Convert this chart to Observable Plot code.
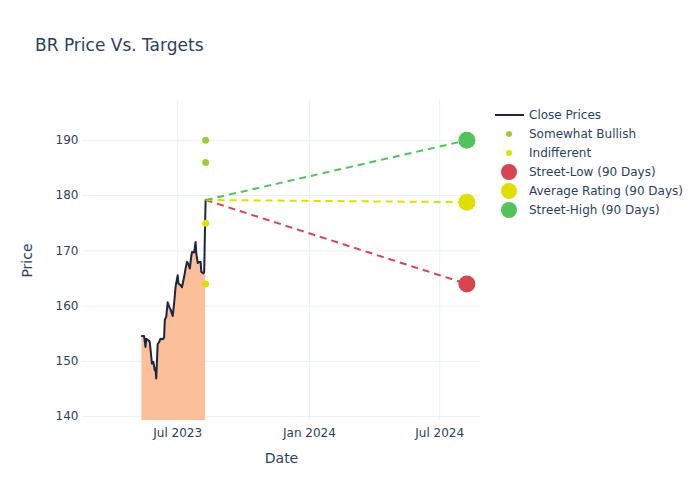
<!DOCTYPE html>
<html>
<head>
<meta charset="utf-8">
<script src="https://cdn.jsdelivr.net/npm/d3@7"></script>
<script src="https://cdn.jsdelivr.net/npm/@observablehq/plot@0.6"></script>
<style>
  body { margin: 0; background: #fff; font-family: "DejaVu Sans", sans-serif; }
  #wrap { position: relative; width: 700px; height: 500px; }
  #title { position: absolute; left: 35px; top: 35px; font-size: 17px; color: #2a3f5f; }
  #legend { position: absolute; left: 494px; top: 106px; font-size: 12px; color: #2a3f5f; }
  .item { height: 18.9px; display: flex; align-items: center; }
  .item svg { width: 30px; height: 18px; margin-right: 5px; }
</style>
</head>
<body>
<div id="wrap">
  <div id="chart"></div>
  <div id="title">BR Price Vs. Targets</div>
  <div id="legend"></div>
</div>
<script>
const priceDates = ["2023-05-12","2023-05-15","2023-05-17","2023-05-18","2023-05-22","2023-05-23","2023-05-26","2023-05-28","2023-05-30","2023-05-31","2023-06-01","2023-06-03","2023-06-05","2023-06-07","2023-06-10","2023-06-12","2023-06-13","2023-06-15","2023-06-17","2023-06-19","2023-06-21","2023-06-24","2023-06-26","2023-06-28","2023-07-01","2023-07-02","2023-07-05","2023-07-07","2023-07-10","2023-07-12","2023-07-14","2023-07-16","2023-07-18","2023-07-20","2023-07-21","2023-07-24","2023-07-26","2023-07-27","2023-07-29","2023-07-31","2023-08-02","2023-08-03","2023-08-06","2023-08-07","2023-08-08","2023-08-09"];
const closePrices = [154.6,154.6,152.6,154.1,153.7,153.5,149.6,149.9,148.4,148.7,146.9,153.1,153.5,154.1,154.0,154.3,157.5,158.1,160.7,159.9,159.4,158.2,160.5,163.5,165.6,164.1,163.8,163.4,165.3,166.8,168.0,167.6,166.8,169.1,169.8,169.7,171.6,169.5,167.8,168.0,168.0,166.2,165.9,166.2,173.2,179.2];

const ratingDate = "2023-08-09";
const bullishTargets = [190, 186];
const indifferentTargets = [175, 164];

const targetDate = "2024-08-08";
const targetNames = ["Street-Low (90 Days)", "Average Rating (90 Days)", "Street-High (90 Days)"];
const targetValues = [164, 178.8, 190];
const targetColors = ["#d64550", "#e0dd00", "#50c45a"];

const xTicks = ["2023-07-01", "2024-01-01", "2024-07-01"];
const xTickLabels = ["Jul 2023", "Jan 2024", "Jul 2024"];
const yTicks = [140, 150, 160, 170, 180, 190];

const parse = d3.utcParse("%Y-%m-%d");
const prices = priceDates.map((d, i) => ({date: parse(d), price: closePrices[i]}));
const last = prices[prices.length - 1];
const bull = bullishTargets.map(v => ({date: parse(ratingDate), v}));
const indiff = indifferentTargets.map(v => ({date: parse(ratingDate), v}));
const targets = targetValues.map((v, i) => ({name: targetNames[i], date: parse(targetDate), v, color: targetColors[i]}));
const segs = targets.map(t => ({x1: last.date, y1: last.price, x2: t.date, y2: t.v, color: t.color}));
const yMin = 139.3, yMax = 197.2;
const tickDates = xTicks.map(parse);
const tickFmt = new Map(tickDates.map((d, i) => [+d, xTickLabels[i]]));

const chart = Plot.plot({
  width: 700, height: 500,
  marginLeft: 82, marginRight: 220, marginTop: 100, marginBottom: 80,
  style: {fontFamily: "DejaVu Sans, sans-serif", fontSize: "12px", color: "#2a3f5f", background: "transparent"},
  x: {type: "utc", domain: [parse("2023-02-18"), parse("2024-08-27")]},
  y: {domain: [yMin, yMax]},
  marks: [
    Plot.gridX(tickDates, {stroke: "#ebf0f8", strokeOpacity: 1, strokeWidth: 1}),
    Plot.gridY(yTicks, {stroke: "#ebf0f8", strokeOpacity: 1, strokeWidth: 1}),
    Plot.areaY(prices, {x: "date", y1: yMin, y2: "price", fill: "#fbbf9a", fillOpacity: 1}),
    Plot.line(prices, {x: "date", y: "price", stroke: "#1c2541", strokeWidth: 2}),
    Plot.link(segs, {x1: "x1", y1: "y1", x2: "x2", y2: "y2", stroke: "color", strokeWidth: 2, strokeDasharray: "7,5"}),
    Plot.dot(bull, {x: "date", y: "v", r: 3.5, fill: "#9acd32", stroke: "none"}),
    Plot.dot(indiff, {x: "date", y: "v", r: 3.5, fill: "#e0dd00", stroke: "none"}),
    Plot.dot(targets, {x: "date", y: "v", r: 8.5, fill: "color", stroke: "none"}),
    Plot.axisX({ticks: tickDates, tickFormat: d => tickFmt.get(+d), tickSize: 0, tickPadding: 8, label: "Date", labelAnchor: "center", labelOffset: 42, labelArrow: "none"}),
    Plot.axisY({ticks: yTicks, tickSize: 0, tickPadding: 4, label: "Price", labelAnchor: "center", labelOffset: 60, labelArrow: "none"})
  ]
});
chart.querySelectorAll("g[aria-label='x-axis label'] text, g[aria-label='y-axis label'] text").forEach(t => t.setAttribute("font-size", "14"));
document.getElementById("chart").appendChild(chart);

const legendItems = [
  {label: "Close Prices", type: "line", color: "#1c2541"},
  {label: "Somewhat Bullish", type: "small", color: "#9acd32"},
  {label: "Indifferent", type: "small", color: "#e0dd00"},
  ...targets.map(t => ({label: t.name, type: "big", color: t.color}))
];
const legend = document.getElementById("legend");
legendItems.forEach(it => {
  const div = document.createElement("div");
  div.className = "item";
  let sw;
  if (it.type === "line") sw = `<line x1="1" x2="30" y1="9" y2="9" stroke="${it.color}" stroke-width="2"/>`;
  else if (it.type === "small") sw = `<circle cx="15" cy="9" r="3" fill="${it.color}"/>`;
  else sw = `<circle cx="15" cy="9" r="8" fill="${it.color}"/>`;
  div.innerHTML = `<svg viewBox="0 0 30 18">${sw}</svg><span>${it.label}</span>`;
  legend.appendChild(div);
});
</script>
</body>
</html>
